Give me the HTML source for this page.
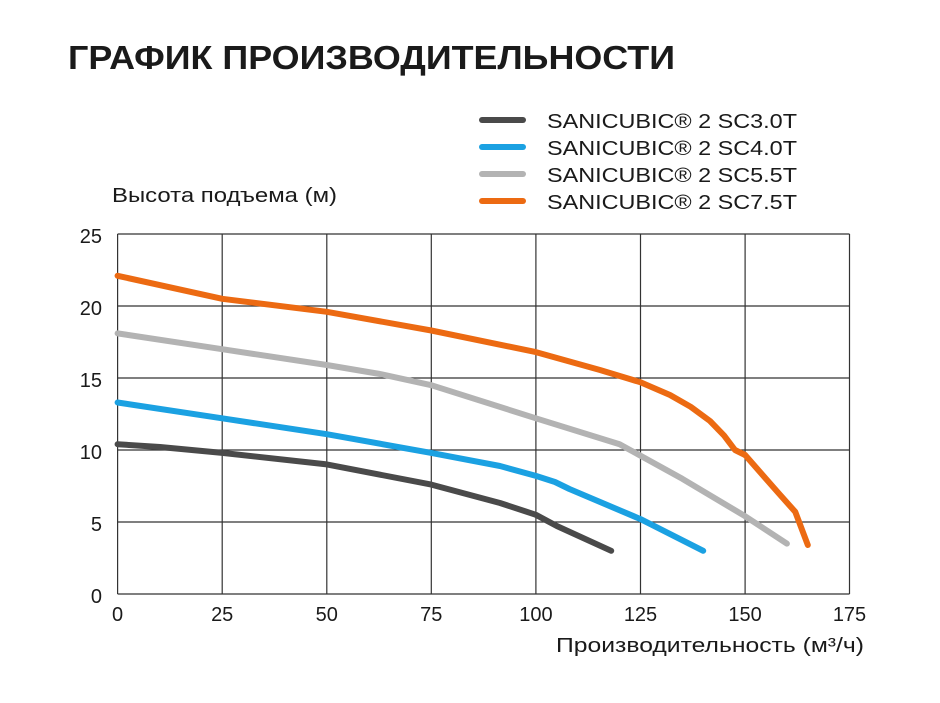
<!DOCTYPE html>
<html><head><meta charset="utf-8"><style>
html,body{margin:0;padding:0;background:#fff;}
svg{display:block}
text{font-family:"Liberation Sans","DejaVu Sans",sans-serif;fill:#1a1a1a}
</style></head><body>
<svg width="940" height="703" viewBox="0 0 940 703" xmlns="http://www.w3.org/2000/svg">
<rect width="940" height="703" fill="#fff"/>
<text x="68" y="69" font-size="33" font-weight="bold" fill="#111" textLength="607" lengthAdjust="spacingAndGlyphs">ГРАФИК ПРОИЗВОДИТЕЛЬНОСТИ</text>
<g stroke-width="6" stroke-linecap="round">
<line x1="482" y1="120" x2="523" y2="120" stroke="#4a4a4a"/>
<line x1="482" y1="147" x2="523" y2="147" stroke="#1ba1e2"/>
<line x1="482" y1="174" x2="523" y2="174" stroke="#b3b3b3"/>
<line x1="482" y1="201" x2="523" y2="201" stroke="#ec6a12"/>
</g>
<g font-size="20">
<text x="547" y="128" textLength="250" lengthAdjust="spacingAndGlyphs">SANICUBIC® 2 SC3.0T</text>
<text x="547" y="155" textLength="250" lengthAdjust="spacingAndGlyphs">SANICUBIC® 2 SC4.0T</text>
<text x="547" y="182" textLength="250" lengthAdjust="spacingAndGlyphs">SANICUBIC® 2 SC5.5T</text>
<text x="547" y="209" textLength="250" lengthAdjust="spacingAndGlyphs">SANICUBIC® 2 SC7.5T</text>
<text x="112" y="202" textLength="225" lengthAdjust="spacingAndGlyphs">Высота подъема (м)</text>
</g>
<g stroke="#333" stroke-width="1.2" fill="none">
<line x1="117.6" y1="234" x2="849.5" y2="234"/>
<line x1="117.6" y1="306" x2="849.5" y2="306"/>
<line x1="117.6" y1="378" x2="849.5" y2="378"/>
<line x1="117.6" y1="450" x2="849.5" y2="450"/>
<line x1="117.6" y1="522" x2="849.5" y2="522"/>
<line x1="117.6" y1="594" x2="849.5" y2="594"/>
<line x1="117.6" y1="234" x2="117.6" y2="594"/>
<line x1="222.2" y1="234" x2="222.2" y2="594"/>
<line x1="326.8" y1="234" x2="326.8" y2="594"/>
<line x1="431.3" y1="234" x2="431.3" y2="594"/>
<line x1="535.9" y1="234" x2="535.9" y2="594"/>
<line x1="640.5" y1="234" x2="640.5" y2="594"/>
<line x1="745.1" y1="234" x2="745.1" y2="594"/>
<line x1="849.5" y1="234" x2="849.5" y2="594"/>
</g>
<g font-size="20" text-anchor="end">
<text x="102" y="243">25</text><text x="102" y="315">20</text><text x="102" y="387">15</text>
<text x="102" y="459">10</text><text x="102" y="531">5</text><text x="102" y="603">0</text>
</g>
<g font-size="20" text-anchor="middle">
<text x="117.6" y="621">0</text><text x="222.2" y="621">25</text><text x="326.8" y="621">50</text>
<text x="431.3" y="621">75</text><text x="535.9" y="621">100</text><text x="640.5" y="621">125</text>
<text x="745.1" y="621">150</text><text x="849.5" y="621">175</text>
</g>
<text x="556" y="652" font-size="20" textLength="308" lengthAdjust="spacingAndGlyphs">Производительность (м³/ч)</text>
<g fill="none" stroke-width="6" stroke-linecap="round" stroke-linejoin="round">
<polyline stroke="#4a4a4a" points="117.6,444.2 160,447 222.2,452.9 326.8,464.4 431.3,484.6 500,503 535.9,514.8 556.8,526 611.2,550.8"/>
<polyline stroke="#1ba1e2" points="117.6,402.5 222.2,418.3 326.8,434.2 431.3,452.9 500,466 535.9,475.9 555,482 569.4,489 640.5,519.1 703.2,550.8"/>
<polyline stroke="#b3b3b3" points="117.6,333.4 222.2,349.2 326.8,365.0 380,374 431.3,385.2 535.9,418.3 619.6,444.2 682.3,478.8 745.1,516.2 786.9,543.6"/>
<polyline stroke="#ec6a12" points="117.6,275.8 222.2,298.8 326.8,311.8 431.3,330.5 535.9,352.1 600,370 640.5,382.3 670,395 690.7,406.8 710,421 724.1,435.6 735,450 745.1,455 778.6,493.2 795.3,511.9 807.8,545.0"/>
</g>
</svg>
</body></html>
